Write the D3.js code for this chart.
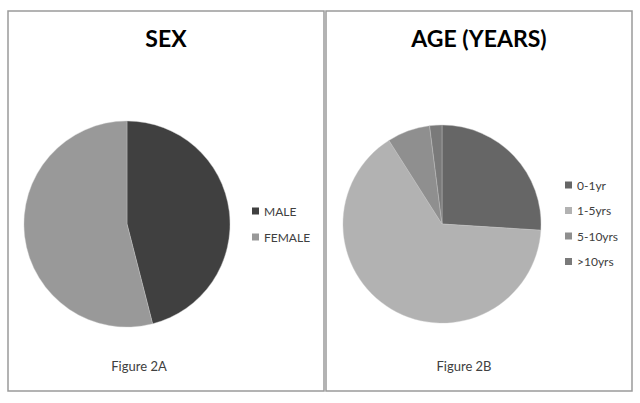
<!DOCTYPE html>
<html lang="en">
<head>
  <meta charset="utf-8">
  <script src="https://d3js.org/d3.v7.min.js"></script>
  <style>
    body { margin: 0; background: #fff; font-family: Lato, 'Open Sans', sans-serif; }
    .panel-border { fill: none; stroke: #9a9a9a; stroke-width: 1.5; }
    .title { font-weight: 700; font-size: 23px; fill: #000; }
    .legend text { font-size: 12px; fill: #404040; }
    .caption { font-size: 13px; fill: #404040; }
  </style>
</head>
<body>
  <svg id="chart" width="640" height="403"></svg>
  <script>
    // Figure 2A - sex
    const sexLabels = ["MALE", "FEMALE"];
    const sexValues = [46, 54];
    const sexColors = ["#404040", "#999999"];

    // Figure 2B - age
    const ageLabels = ["0-1yr", "1-5yrs", "5-10yrs", ">10yrs"];
    const ageValues = [26, 65, 7, 2];
    const ageColors = ["#666666", "#b2b2b2", "#8f8f8f", "#7a7a7a"];

    const svg = d3.select("#chart");

    const panels = [
      { title: "SEX", caption: "Figure 2A", labels: sexLabels, values: sexValues, colors: sexColors,
        box: [8, 11, 316, 380], cx: 127, cy: 224, r: 103, legX: 252, legY: 211, legStep: 26, capX: 139 },
      { title: "AGE (YEARS)", caption: "Figure 2B", labels: ageLabels, values: ageValues, colors: ageColors,
        box: [326, 11, 306, 380], cx: 442, cy: 224, r: 99, legX: 565, legY: 185, legStep: 25.5, capX: 464 }
    ];

    const pie = d3.pie().sort(null).value(d => d);

    panels.forEach(p => {
      const [bx, by, bw, bh] = p.box;
      svg.append("rect")
        .attr("class", "panel-border")
        .attr("x", bx).attr("y", by)
        .attr("width", bw).attr("height", bh);

      svg.append("text")
        .attr("class", "title")
        .attr("x", bx + bw / 2)
        .attr("y", 47)
        .attr("text-anchor", "middle")
        .text(p.title);

      const arc = d3.arc().innerRadius(0).outerRadius(p.r);
      const color = d3.scaleOrdinal().domain(p.labels).range(p.colors);

      svg.append("g")
        .attr("transform", `translate(${p.cx},${p.cy})`)
        .selectAll("path")
        .data(pie(p.values))
        .join("path")
        .attr("d", arc)
        .attr("fill", (d, i) => color(p.labels[i]))
        .attr("stroke", "#c8c8c8")
        .attr("stroke-width", 0.4);

      const leg = svg.append("g").attr("class", "legend")
        .selectAll("g")
        .data(p.labels)
        .join("g")
        .attr("transform", (d, i) => `translate(${p.legX},${p.legY + i * p.legStep})`);
      leg.append("rect")
        .attr("x", 0).attr("y", -3.5)
        .attr("width", 7).attr("height", 7)
        .attr("fill", d => color(d));
      leg.append("text")
        .attr("x", 12)
        .attr("y", 4.5)
        .text(d => d);

      svg.append("text")
        .attr("class", "caption")
        .attr("x", p.capX)
        .attr("y", 371)
        .attr("text-anchor", "middle")
        .text(p.caption);
    });
  </script>
</body>
</html>
